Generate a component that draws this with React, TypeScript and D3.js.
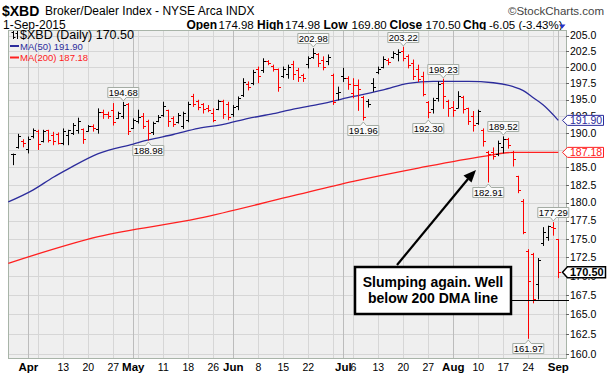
import React from "react";
import * as d3 from "d3";

// ---------- DATA ----------
const dates = [
  "3/27","3/30","3/31",
  "4/1","4/2","4/6","4/7","4/8","4/9","4/10","4/13","4/14","4/15","4/16","4/17","4/20","4/21","4/22","4/23","4/24","4/27","4/28","4/29","4/30",
  "5/1","5/4","5/5","5/6","5/7","5/8","5/11","5/12","5/13","5/14","5/15","5/18","5/19","5/20","5/21","5/22","5/26","5/27","5/28","5/29",
  "6/1","6/2","6/3","6/4","6/5","6/8","6/9","6/10","6/11","6/12","6/15","6/16","6/17","6/18","6/19","6/22","6/23","6/24","6/25","6/26","6/29","6/30",
  "7/1","7/2","7/6","7/7","7/8","7/9","7/10","7/13","7/14","7/15","7/16","7/17","7/20","7/21","7/22","7/23","7/24","7/27","7/28","7/29","7/30","7/31",
  "8/3","8/4","8/5","8/6","8/7","8/10","8/11","8/12","8/13","8/14","8/17","8/18","8/19","8/20","8/21","8/24","8/25","8/26","8/27","8/28","8/31",
  "9/1",
];

const opens = [
  186.9,188.0,188.9,187.6,189.6,190.3,188.8,190.4,189.8,189.9,188.6,189.8,190.0,190.5,190.6,190.3,191.1,190.6,193.2,192.9,
  193.5,192.2,192.5,194.3,190.8,191.8,192.6,191.8,190.2,191.8,192.7,193.4,192.3,191.7,191.0,192.0,195.5,194.8,194.3,193.8,
  193.0,193.6,194.8,194.3,192.8,194.0,195.7,197.4,197.5,199.8,199.5,201.0,200.2,199.7,198.6,199.0,200.5,199.5,198.8,200.5,
  201.6,202.0,201.2,200.9,198.8,196.0,198.6,198.4,196.0,197.3,195.4,194.8,197.5,199.3,200.0,201.1,201.6,202.0,202.6,201.8,
  200.7,199.8,198.6,194.6,193.6,195.2,197.5,194.8,193.9,193.8,195.4,193.7,192.5,191.5,190.5,187.3,187.3,187.0,188.0,189.1,
  187.3,183.7,180.2,173.4,172.9,169.0,174.5,175.3,176.6,174.98,
];
const highs = [
  187.0,189.9,189.1,189.5,190.7,190.5,190.5,190.5,190.2,190.1,190.7,190.5,191.5,192.3,190.7,191.2,191.3,193.7,193.5,193.2,
  194.5,193.2,194.68,194.5,192.2,193.5,193.0,192.0,191.7,192.7,194.7,193.5,192.5,193.0,193.2,194.7,195.9,195.0,194.5,194.2,
  193.7,195.0,195.0,194.7,194.2,195.5,198.3,197.8,199.6,200.1,201.4,201.1,200.4,199.8,200.1,200.4,201.0,199.9,199.0,201.7,
  202.98,202.2,201.7,202.0,199.0,197.0,199.9,198.6,198.3,198.1,195.6,195.1,198.3,200.1,201.7,201.4,202.5,202.8,203.22,202.0,
  201.2,200.4,199.3,194.8,195.3,197.8,198.23,195.0,194.8,196.3,195.6,193.8,193.3,193.5,190.7,187.4,187.9,188.9,189.52,189.3,
  187.4,183.8,180.5,173.6,173.1,172.4,176.6,176.8,177.29,174.98,
];
const lows = [
  185.4,187.8,188.0,187.1,189.3,187.6,188.7,188.7,188.3,188.4,188.3,188.3,189.8,190.0,188.5,190.3,190.3,190.0,192.2,192.2,
  191.2,192.2,192.2,189.8,190.7,191.5,190.7,188.98,189.8,191.7,192.5,191.0,191.0,191.5,190.7,191.7,194.0,193.5,193.0,193.2,
  191.7,193.5,192.2,192.0,192.5,193.5,195.5,196.5,197.3,197.6,199.2,200.4,199.4,196.3,198.4,198.3,198.1,197.8,197.8,199.9,
  201.4,200.1,199.6,200.4,194.3,195.0,197.8,196.6,195.3,193.4,191.96,193.9,196.3,199.0,199.9,200.4,201.4,201.0,201.0,199.9,
  198.1,197.8,195.6,192.30,193.0,194.8,193.7,192.5,192.5,193.8,193.0,191.3,190.3,191.3,188.1,182.91,186.2,186.7,187.1,187.8,
  185.2,181.4,175.7,161.97,166.5,167.0,174.1,174.8,175.5,169.80,
];
const closes = [
  186.9,189.6,188.6,189.2,190.4,188.4,190.3,189.0,188.8,188.6,190.3,190.4,191.2,191.8,189.2,191.0,190.7,193.2,192.8,192.6,
  191.6,193.0,194.2,190.3,191.9,192.4,191.0,190.0,191.5,192.4,194.0,191.8,191.3,192.7,193.0,194.4,194.3,193.9,193.6,193.4,
  192.0,194.8,192.8,192.4,193.9,195.3,197.7,196.9,199.2,198.6,201.0,200.6,199.7,196.9,199.8,200.1,199.0,198.5,198.3,201.5,
  202.3,200.6,200.0,201.6,194.6,196.2,198.3,197.4,197.2,196.6,192.4,194.3,197.0,199.8,201.3,200.8,202.2,202.4,201.5,200.4,
  198.6,198.2,195.9,193.2,194.9,197.4,195.5,193.8,193.4,195.6,193.6,191.8,191.2,193.3,188.8,187.0,186.7,188.6,189.2,188.2,
  186.2,181.8,176.0,169.4,167.0,172.1,176.0,176.7,176.55,170.50,
];

// moving averages (bar index, value)
const ma50Index = [-1, 4, 8, 11, 17, 24, 27, 32, 37, 42, 47, 52, 56, 61, 68, 74, 79, 84, 91, 96, 100, 102, 104, 106, 109];
const ma50Values = [180.1, 181.8, 183.6, 184.8, 187.0, 188.4, 189.0, 189.8, 190.7, 191.3, 192.2, 192.9, 193.6, 194.3, 195.5, 196.5, 197.5, 197.8, 197.8, 197.6, 197.0, 196.4, 195.3, 194.2, 191.9];
const ma200Index = [-1, 17, 37, 55, 68, 81, 94, 100, 109];
const ma200Values = [171.7, 175.3, 177.8, 180.8, 183.0, 184.9, 186.6, 187.18, 187.18];

const yTicks = [160, 162.5, 165, 167.5, 170, 172.5, 175, 177.5, 180, 182.5, 185, 187.5, 190, 192.5, 195, 197.5, 200, 202.5, 205];

const xTickDates = ["4/1","4/13","4/20","4/27","5/1","5/11","5/18","5/26","6/1","6/8","6/15","6/22","7/1","7/6","7/13","7/20","7/27","8/3","8/10","8/17","8/24","9/1"];
const xTickLabels = ["Apr","13","20","27","May","11","18","26","Jun","8","15","22","Jul","6","13","20","27","Aug","10","17","24","Sep"];
const monthDates = ["4/1","5/1","6/1","7/1","8/3","9/1"];
const weekGridDates = ["4/6","4/13","4/20","4/27","5/4","5/11","5/18","5/26","6/8","6/15","6/22","6/29","7/6","7/13","7/20","7/27","8/10","8/17","8/24","8/31"];

const annDates = ["4/29","5/6","6/23","7/8","7/20","7/27","7/30","8/12","8/17","8/24","8/31"];
const annValues = [194.68, 188.98, 202.98, 191.96, 203.22, 192.30, 198.23, 182.91, 189.52, 161.97, 177.29];
const annSides = ["up","down","up","down","up","down","up","down","up","down","up"];

const ma50Last = 191.90;
const ma200Last = 187.18;
const lastClose = 170.50;

// ---------- CHART ----------
const FONT = "'Liberation Sans', Arial, sans-serif";
const PLOT = { left: 8, right: 567, top: 30, bottom: 359 };

export default function App() {
  const idx = (d: string) => dates.indexOf(d);
  const x = d3.scaleLinear().domain([0, dates.length - 1]).range([13.3, 558.3]);
  const y = d3.scaleLog().domain([160, 205]).range([354, 35.5]);
  const px = (i: number) => Math.round(x(i)) + 0.5;

  const ma50Line = d3
    .line<number>()
    .x((_, i) => x(ma50Index[i]))
    .y((v) => y(v))
    .curve(d3.curveMonotoneX)(ma50Values) as string;
  const ma200Line = d3
    .line<number>()
    .x((_, i) => x(ma200Index[i]))
    .y((v) => y(v))
    .curve(d3.curveMonotoneX)(ma200Values) as string;

  const tagValues = [ma50Last, ma200Last, lastClose];
  // tick labels fully hidden behind a value tag are not drawn
  const tickHidden = (t: number) => tagValues.some((v) => Math.abs(y(v) - y(t)) < 3);

  const bars = dates.map((d, i) => {
    const up = i === 0 || closes[i] >= closes[i - 1];
    const cx = px(i);
    const color = up ? "#000000" : "#ff0000";
    return (
      <g key={d} stroke={color} strokeWidth={1}>
        <line x1={cx} x2={cx} y1={y(highs[i])} y2={y(lows[i]) + 0.5} />
        <line x1={cx - 2.5} x2={cx} y1={Math.round(y(opens[i])) + 0.5} y2={Math.round(y(opens[i])) + 0.5} />
        <line x1={cx} x2={cx + 2.5} y1={Math.round(y(closes[i])) + 0.5} y2={Math.round(y(closes[i])) + 0.5} />
      </g>
    );
  });

  const annotations = annDates.map((d, k) => {
    const i = idx(d);
    const cx = x(i);
    const txt = annValues[k].toFixed(2);
    const w = 31;
    const h = 10;
    const up = annSides[k] === "up";
    const vy = y(annValues[k]);
    let path: string;
    let ty: number;
    if (up) {
      const bot = Math.round(vy - 5) + 0.5;
      const top = bot - h;
      path = `M${cx - w / 2},${top}H${cx + w / 2}V${bot}H${cx + 3}L${cx},${bot + 3.5}L${cx - 3},${bot}H${cx - w / 2}Z`;
      ty = bot - 1.8;
    } else {
      const top = Math.round(vy + 5) + 0.5;
      const bot = top + h;
      path = `M${cx - w / 2},${top}H${cx - 3}L${cx},${top - 3.5}L${cx + 3},${top}H${cx + w / 2}V${bot}H${cx - w / 2}Z`;
      ty = bot - 1.8;
    }
    return (
      <g key={d}>
        <path d={path} fill="#fafafa" stroke="#a4aca4" strokeWidth={1} />
        <text x={cx} y={ty} textAnchor="middle" fontSize={9.5} fontFamily={FONT} fill="#000">
          {txt}
        </text>
      </g>
    );
  });

  const valueTag = (v: number, color: string, bold: boolean) => {
    const cy = y(v);
    const x0 = 562.5;
    const hh = bold ? 5.5 : 5;
    const w = bold ? 43 : 41;
    return (
      <g>
        <path
          d={`M${x0},${cy}L${x0 + 5},${cy - hh}H${x0 + w}V${cy + hh}H${x0 + 5}Z`}
          fill="#ffffff"
          stroke={color}
          strokeWidth={bold ? 1.5 : 1}
        />
        <text x={x0 + 7.5} y={cy + 3.7} fontSize={bold ? 11 : 10.5} fontWeight={bold ? "bold" : "normal"} fontFamily={FONT} fill={color}>
          {v.toFixed(2)}
        </text>
      </g>
    );
  };

  const chgSegments: [string, number, boolean][] = [
    ["Open", 186.4, true],
    ["174.98", 218.6, false],
    ["High", 257, true],
    ["174.98", 285, false],
    ["Low", 323.5, true],
    ["169.80", 351.5, false],
    ["Close", 389.5, true],
    ["170.50", 425.6, false],
    ["Chg", 463, true],
    ["-6.05 (-3.43%)", 489, false],
  ];

  return (
    <div style={{ position: "fixed", left: 0, top: 0 }}>
      <svg width={609} height={376} style={{ display: "block", background: "#ffffff" }}>
        {/* header */}
        <text x={2} y={16} fontSize={14} fontWeight="bold" fontFamily={FONT} fill="#000">$XBD</text>
        <text x={45} y={15} fontSize={12} fontFamily={FONT} fill="#000">Broker/Dealer Index - NYSE Arca INDX</text>
        <text x={604} y={15} textAnchor="end" fontSize={11.5} fontFamily={FONT} fill="#444">©StockCharts.com</text>
        <text x={3} y={28.5} fontSize={12} fontFamily={FONT} fill="#000">1-Sep-2015</text>
        {chgSegments.map(([t, xx, b], k) => (
          <text key={k} x={xx} y={28.5} fontSize={b ? 12 : 11.5} fontWeight={b ? "bold" : "normal"} fontFamily={FONT} fill="#000">
            {t}
          </text>
        ))}
        <path d="M559,24.5H565.5L562.25,28.5Z" fill="#2233cc" />

        {/* plot background */}
        <rect x={PLOT.left} y={PLOT.top} width={PLOT.right - PLOT.left} height={PLOT.bottom - PLOT.top} fill="#efefef" />
        {/* grid */}
        {yTicks.map((t) => (
          <line key={"h" + t} x1={PLOT.left} x2={PLOT.right} y1={Math.round(y(t)) + 0.5} y2={Math.round(y(t)) + 0.5} stroke="#d6d6d6" />
        ))}
        {weekGridDates.map((d) => (
          <line key={"w" + d} x1={px(idx(d))} x2={px(idx(d))} y1={PLOT.top} y2={PLOT.bottom} stroke="#d6d6d6" />
        ))}
        {monthDates.map((d) => (
          <line key={"m" + d} x1={px(idx(d))} x2={px(idx(d))} y1={PLOT.top} y2={PLOT.bottom} stroke="#bcbcbc" />
        ))}
        <rect x={PLOT.left + 0.5} y={PLOT.top + 0.5} width={PLOT.right - PLOT.left - 1} height={PLOT.bottom - PLOT.top - 1} fill="none" stroke="#a8b4a8" />

        {/* moving averages */}
        <path d={ma200Line} fill="none" stroke="#ff2020" strokeWidth={1.3} />
        <path d={ma50Line} fill="none" stroke="#2c2c9c" strokeWidth={1.3} />

        {/* price bars */}
        {bars}

        {/* legend */}
        <g stroke="#000" strokeWidth={1}>
          <line x1={13.5} x2={13.5} y1={31} y2={39} />
          <line x1={11.5} x2={13.5} y1={32.5} y2={32.5} />
          <line x1={13.5} x2={15.5} y1={37.5} y2={37.5} />
          <line x1={17.5} x2={17.5} y1={31} y2={39} />
          <line x1={15.5} x2={17.5} y1={33.5} y2={33.5} />
        </g>
        <text x={20} y={38.5} fontSize={12.5} fontFamily={FONT} fill="#000">$XBD (Daily) 170.50</text>
        <line x1={10} x2={19} y1={46} y2={46} stroke="#2c2c9c" strokeWidth={2} />
        <text x={20} y={49.5} fontSize={9.5} fontFamily={FONT} fill="#2c2c9c">MA(50) 191.90</text>
        <line x1={10} x2={19} y1={57.5} y2={57.5} stroke="#ff2020" strokeWidth={2} />
        <text x={20} y={61} fontSize={9.5} fontFamily={FONT} fill="#ff2020">MA(200) 187.18</text>

        {/* right axis */}
        {yTicks.map((t) => (
          <g key={"yt" + t}>
            <line x1={566} x2={569} y1={Math.round(y(t)) + 0.5} y2={Math.round(y(t)) + 0.5} stroke="#666" />
            {!tickHidden(t) && (
              <text x={570} y={y(t) + 3.7} fontSize={10.5} fontFamily={FONT} fill="#000">{t.toFixed(1)}</text>
            )}
          </g>
        ))}

        {/* callout */}
        <line x1={511} x2={569} y1={300.5} y2={300.5} stroke="#000" strokeWidth={1.2} />
        <line x1={397} y1={265} x2={468} y2={179} stroke="#000" strokeWidth={2.2} />
        <path d="M476,170L463.5,175.5L471.5,182.5Z" fill="#000" />
        <rect x={355} y={267} width={156} height={47} fill="#ffffff" stroke="#000" strokeWidth={2.5} />
        <text x={433} y={287} textAnchor="middle" fontSize={14} fontWeight="bold" fontFamily={FONT} fill="#000">Slumping again. Well</text>
        <text x={433} y={303} textAnchor="middle" fontSize={14} fontWeight="bold" fontFamily={FONT} fill="#000">below 200 DMA line</text>

        {/* value tags */}
        {valueTag(ma50Last, "#2c2c9c", false)}
        {valueTag(ma200Last, "#ff2020", false)}
        {valueTag(lastClose, "#000000", true)}

        {/* annotations */}
        {annotations}

        {/* x axis labels */}
        {xTickDates.map((d, k) => {
          const bold = isNaN(Number(xTickLabels[k]));
          return (
            <text key={"xl" + d} x={x(idx(d))} y={371} textAnchor="middle" fontSize={bold ? 11.5 : 10.5} fontWeight={bold ? "bold" : "normal"} fontFamily={FONT} fill="#000">
              {xTickLabels[k]}
            </text>
          );
        })}
      </svg>
    </div>
  );
}
